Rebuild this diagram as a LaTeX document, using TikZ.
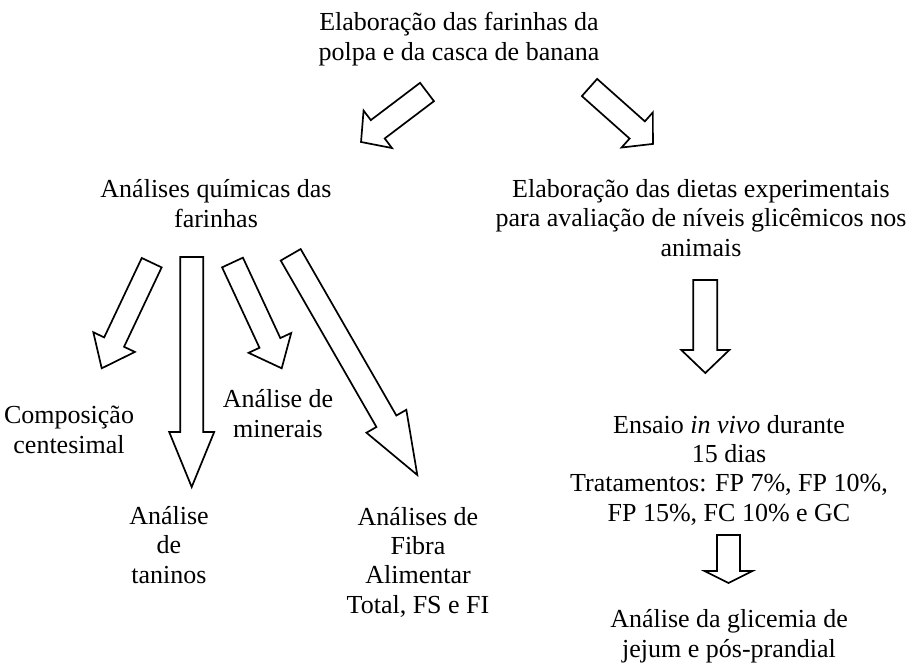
\documentclass[tikz,border=0pt]{standalone}
\usepackage{fontspec}
\setmainfont{Liberation Serif}
\usetikzlibrary{calc}
\tikzset{
  blockarrow/.style={draw=black, line width=1.7pt, line join=miter, fill=white},
  txt/.style={align=center, inner sep=0pt, anchor=base, font=\fontsize{26}{29.3}\selectfont}
}
% #1 tail centre, #2 tip, #3 shaft width, #4 head width, #5 head length
\newcommand\blockarr[5]{%
  \draw[blockarrow] let \p1=(#1), \p2=(#2),
    \n1={atan2(\y2-\y1,\x2-\x1)}, \n2={veclen(\x2-\x1,\y2-\y1)} in
    [shift={(\p1)}, rotate=\n1]
    (0,{-#3/2}) -- ({\n2-#5},{-#3/2}) -- ({\n2-#5},{-#4/2}) -- ({\n2},0)
    -- ({\n2-#5},{#4/2}) -- ({\n2-#5},{#3/2}) -- (0,{#3/2}) -- cycle;
}
\begin{document}
\begin{tikzpicture}[x=1pt,y=-1pt]
\useasboundingbox (0,0) rectangle (909,664);
% texts (anchor = baseline of the last line)
\node[txt] (top) at (459,60) {Elaboração das farinhas da\\polpa e da casca de banana};
\node[txt] (quim) at (216,227) {Análises químicas das\\farinhas};
\node[txt] (diet) at (701,256) {Elaboração das dietas experimentais\\para avaliação de níveis glicêmicos nos\\animais};
\node[txt] (comp) at (69,453) {Composição\\centesimal};
\node[txt] (tan) at (169,583) {Análise\\de\\taninos};
\node[txt] (min) at (278,437) {Análise de\\minerais};
\node[txt] (fib) at (418,613) {Análises de\\Fibra\\Alimentar\\Total, FS e FI};
\node[txt] (ens) at (729,521) {Ensaio \textit{in vivo} durante\\15 dias\\Tratamentos: FP 7\%, FP 10\%,\\FP 15\%, FC 10\% e GC};
\node[txt] (gli) at (729,657) {Análise da glicemia de\\jejum e pós-prandial};
% arrow end points
\coordinate (a1s) at (427,92);    \coordinate (a1e) at (361,142);
\coordinate (a2s) at (589.5,87.5);\coordinate (a2e) at (653,144);
\coordinate (a3s) at (151.7,262.7);\coordinate (a3e) at (101.7,368.3);
\coordinate (a4s) at (191.7,257); \coordinate (a4e) at (191.7,487);
\coordinate (a5s) at (232.5,262.5);\coordinate (a5e) at (281.7,368.3);
\coordinate (a6s) at (290.7,254.8);\coordinate (a6e) at (417.3,475);
\coordinate (a7s) at (705.3,280); \coordinate (a7e) at (705.3,373);
\coordinate (a8s) at (728.5,535); \coordinate (a8e) at (728.5,583);
\blockarr{a1s}{a1e}{23}{47}{21}
\blockarr{a2s}{a2e}{23}{47}{21}
\blockarr{a3s}{a3e}{22}{46}{29}
\blockarr{a4s}{a4e}{23}{45}{55}
\blockarr{a5s}{a5e}{23}{47}{28}
\blockarr{a6s}{a6e}{23}{46}{62}
\blockarr{a7s}{a7e}{24}{48}{23}
\blockarr{a8s}{a8e}{23}{48}{12}
\end{tikzpicture}
\end{document}
